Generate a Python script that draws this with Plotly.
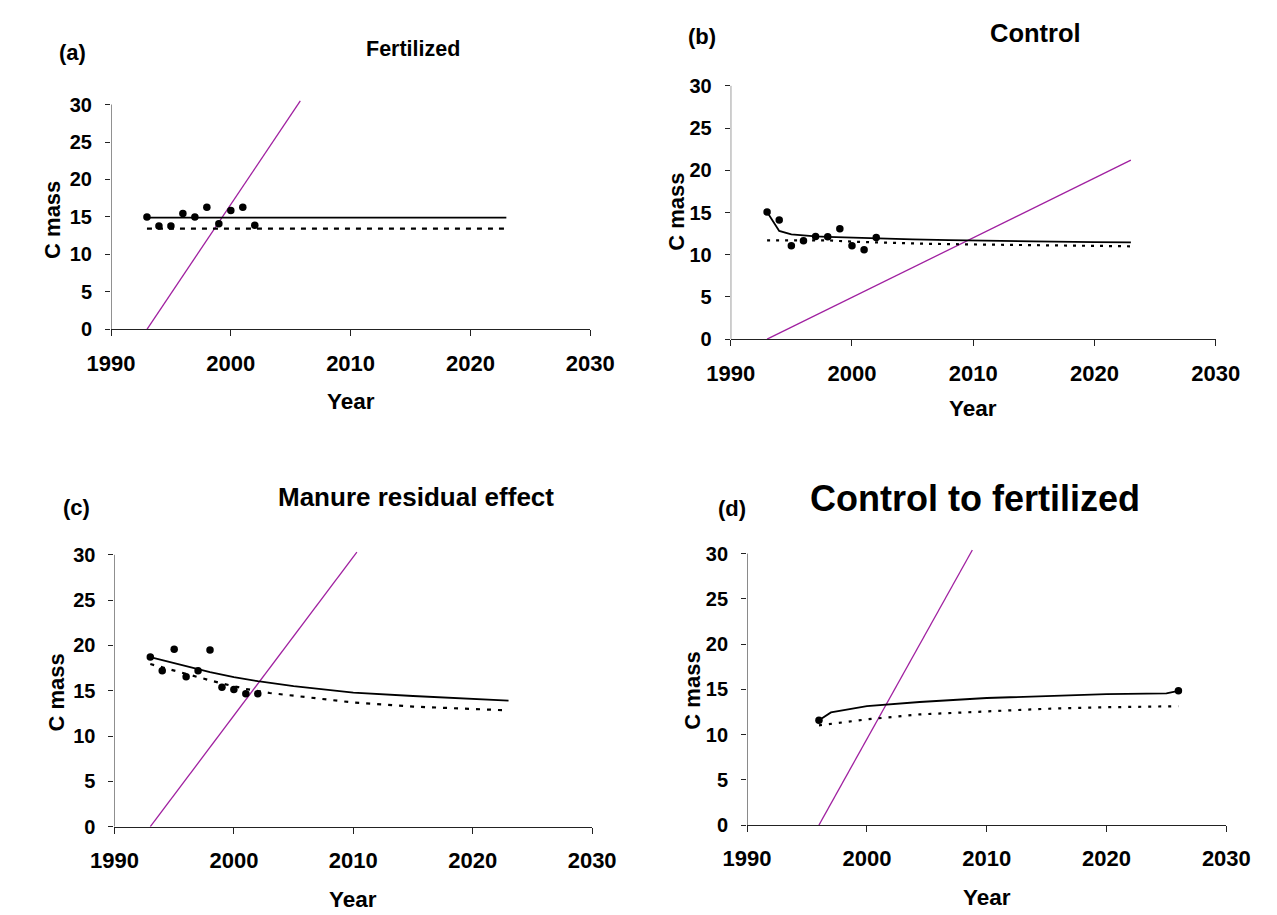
import plotly.graph_objects as go

W, H = 1277, 915

# ---------------- data ----------------
# (a) Fertilized
a_obs_years = [1993, 1994, 1995, 1996, 1997, 1998, 1999, 2000, 2001, 2002]
a_obs = [14.98, 13.8, 13.8, 15.45, 15.0, 16.3, 14.1, 15.85, 16.3, 13.88]
a_mod_years = [1993, 2023]
a_mod_solid = [14.9, 14.9]
a_mod_dotted = [13.45, 13.45]
a_ref_years = [1993, 2005.8]
a_ref = [0, 30.5]

# (b) Control
b_obs_years = [1993, 1994, 1995, 1996, 1997, 1998, 1999, 2000, 2001, 2002]
b_obs = [15.07, 14.1, 11.07, 11.65, 12.16, 12.12, 13.09, 11.07, 10.6, 12.04]
b_solid_years = [1993, 1994, 1995, 1996, 1997, 1998, 2000, 2002, 2005, 2008, 2010, 2015, 2020, 2023]
b_solid = [15.07, 12.82, 12.4, 12.25, 12.17, 12.12, 12.02, 11.93, 11.83, 11.72, 11.66, 11.58, 11.5, 11.47]
b_dot_years = [1993, 1996, 1998, 2000, 2003, 2006, 2010, 2015, 2020, 2023]
b_dot = [11.7, 11.75, 11.7, 11.55, 11.4, 11.3, 11.22, 11.15, 11.05, 11.0]
b_ref_years = [1993, 2023]
b_ref = [0, 21.2]

# (c) Manure residual effect
c_obs_years = [1993, 1994, 1995, 1996, 1997, 1998, 1999, 2000, 2001, 2002]
c_obs = [18.73, 17.2, 19.57, 16.55, 17.2, 19.49, 15.39, 15.14, 14.67, 14.67]
c_solid_years = [1993, 1995, 1998, 2000, 2002, 2005, 2008, 2010, 2015, 2020, 2023]
c_solid = [18.7, 18.05, 17.05, 16.5, 16.05, 15.5, 15.05, 14.8, 14.42, 14.09, 13.91]
c_dot_years = [1993, 1995, 1997, 1999, 2001, 2003, 2005, 2008, 2010, 2015, 2020, 2023]
c_dot = [17.95, 17.2, 16.5, 15.8, 15.2, 14.75, 14.45, 13.95, 13.7, 13.25, 13.0, 12.83]
c_ref_years = [1993, 2010.3]
c_ref = [0, 30.3]

# (d) Control to fertilized
d_obs_years = [1996, 2026]
d_obs = [11.58, 14.84]
d_solid_years = [1996, 1997, 2000, 2002, 2004.4, 2010, 2015, 2020, 2025, 2026]
d_solid = [11.58, 12.45, 13.14, 13.35, 13.6, 14.04, 14.29, 14.47, 14.54, 14.84]
d_dot_years = [1996, 2000, 2004.4, 2010, 2015, 2020, 2026]
d_dot = [11.02, 11.68, 12.23, 12.59, 12.85, 13.02, 13.13]
d_ref_years = [1996, 2008.8]
d_ref = [0, 30.4]

x_ticks = [1990, 2000, 2010, 2020, 2030]
y_ticks = [0, 5, 10, 15, 20, 25, 30]

titles = ["Fertilized", "Control", "Manure residual effect", "Control to fertilized"]
letters = ["(a)", "(b)", "(c)", "(d)"]

# ---------------- layout helpers ----------------
FONT = "Liberation Sans, Arial, sans-serif"
PURPLE = "#a020a0"
AX = "#222222"

# pixel boxes: x at 1990, x at 2030, y at value 0, y at value 30
boxes = [
    (82.1, 580.0, 323.3, 95.0),
    (726.0, 1230.0, 333.3, 76.0),
    (85.7, 582.0, 828.3, 552.3),
    (743.0, 1241.0, 826.7, 551.0),
]
YTOP = 31

panels = [
    (a_obs_years, a_obs, a_mod_years, a_mod_solid, a_mod_years, a_mod_dotted, a_ref_years, a_ref, "5px,6px"),
    (b_obs_years, b_obs, b_solid_years, b_solid, b_dot_years, b_dot, b_ref_years, b_ref, "3px,6px"),
    (c_obs_years, c_obs, c_solid_years, c_solid, c_dot_years, c_dot, c_ref_years, c_ref, "4px,7px"),
    (d_obs_years, d_obs, d_solid_years, d_solid, d_dot_years, d_dot, d_ref_years, d_ref, "3px,7px"),
]

fig = go.Figure()
layout = dict(
    width=W, height=H, margin=dict(l=0, r=0, t=0, b=0),
    paper_bgcolor="white", plot_bgcolor="white", showlegend=False,
    font=dict(family=FONT, color="black"),
)
shapes = []

for i, (box, p) in enumerate(zip(boxes, panels)):
    n = "" if i == 0 else str(i + 1)
    xa, ya = "x" + n, "y" + n
    px0, px1, py0, py30 = box
    ppu = (py0 - py30) / 30.0
    ytop_px = py0 - YTOP * ppu
    xdom = [px0 / W, px1 / W]
    ydom = [1 - py0 / H, 1 - ytop_px / H]
    ox, oy, sx, sy, dx, dy, rx, ry, dash = p

    fig.add_trace(go.Scatter(x=rx, y=ry, mode="lines", line=dict(color=PURPLE, width=1.3),
                             xaxis=xa, yaxis=ya, hoverinfo="skip"))
    fig.add_trace(go.Scatter(x=dx, y=dy, mode="lines", line=dict(color="black", width=2.2, dash=dash),
                             xaxis=xa, yaxis=ya))
    fig.add_trace(go.Scatter(x=sx, y=sy, mode="lines", line=dict(color="black", width=1.8),
                             xaxis=xa, yaxis=ya))
    fig.add_trace(go.Scatter(x=ox, y=oy, mode="markers", marker=dict(color="black", size=7.5),
                             xaxis=xa, yaxis=ya))

    layout["xaxis" + n] = dict(
        domain=xdom, anchor=ya, range=[1990, 2030], tickvals=x_ticks,
        showline=True, linecolor=AX, linewidth=1, ticks="outside", ticklen=6, tickcolor=AX,
        showgrid=False, zeroline=False,
        tickfont=dict(family=FONT, size=22, color="black", weight="bold"),
        ticklabelstandoff=8,
    )
    layout["yaxis" + n] = dict(
        domain=ydom, anchor=xa, range=[0, YTOP], tickvals=y_ticks,
        showline=False, ticks="outside", ticklen=5, tickcolor=AX,
        showgrid=False, zeroline=False,
        tickfont=dict(family=FONT, size=20, color="black", weight="bold"),
        ticklabelstandoff=9,
    )
    shapes.append(dict(type="line", xref=xa, yref=ya, x0=1990, x1=1990, y0=0, y1=30,
                       line=dict(color=AX, width=1)))

layout["shapes"] = shapes

def ann(text, px, py, size, angle=0):
    return dict(text="<b>" + text + "</b>", x=px / W, y=1 - py / H, xref="paper", yref="paper",
                xanchor="center", yanchor="middle", showarrow=False, textangle=angle,
                font=dict(family=FONT, size=size, color="black"))

annotations = [
    ann(letters[0], 41.7, 41.7, 22), ann(titles[0], 395.8, 39, 21.5),
    ann(letters[1], 695.7, 26, 22), ann(titles[1], 1042.5, 22, 25.5),
    ann(letters[2], 46, 504, 22), ann(titles[2], 399, 494, 26),
    ann(letters[3], 727.6, 505, 22), ann(titles[3], 980, 495, 36),
    ann("C mass", 22, 212, 22, -90), ann("C mass", 670, 204, 22, -90),
    ann("C mass", 25, 692, 22, -90), ann("C mass", 686, 690, 22, -90),
    ann("Year", 331, 397, 22.5), ann("Year", 978, 404, 22.5),
    ann("Year", 334, 902, 22.5), ann("Year", 992, 900, 22.5),
]
layout["annotations"] = annotations

fig.update_layout(**layout)
fig.write_html("out.html")
